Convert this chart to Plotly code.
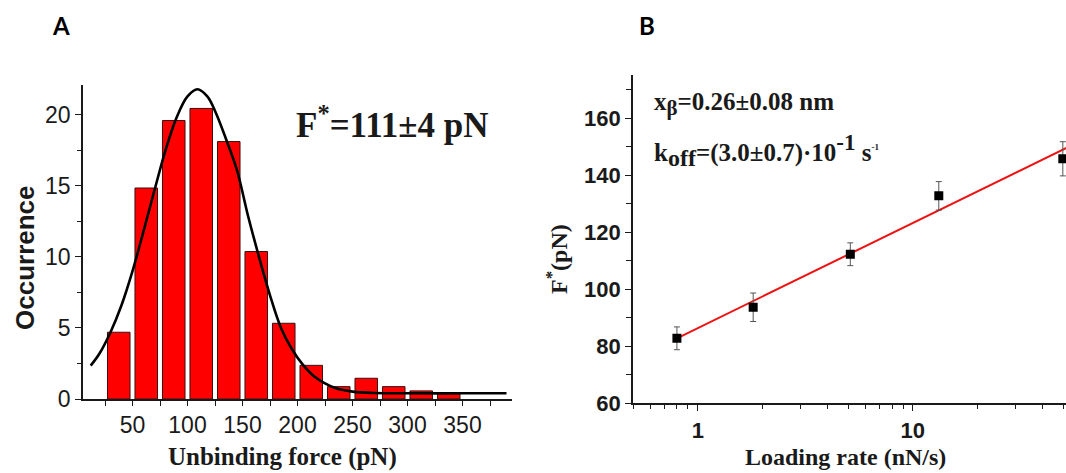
import plotly.graph_objects as go
import math

# ---- Panel A data: histogram of unbinding forces ----
bin_centers = [37.5, 62.5, 87.5, 112.5, 137.5, 162.5, 187.5, 212.5, 237.5, 262.5, 287.5, 312.5, 337.5]
occurrence = [4.7, 14.85, 19.6, 20.45, 18.12, 10.38, 5.33, 2.37, 0.87, 1.46, 0.87, 0.57, 0.36]

# fitted curve
curve_x = [12, 20, 30, 40, 50, 60, 70, 80, 90, 100, 109, 118, 126, 135, 145, 155, 165, 175,
           185, 195, 205, 215, 225, 235, 250, 270, 300, 350, 390]
curve_y = [2.35, 3.2, 4.7, 6.6, 9.0, 11.8, 14.7, 17.5, 19.8, 21.3, 21.8, 21.3, 20.1, 18.3,
           16.1, 12.9, 10.0, 7.3, 5.0, 3.5, 2.4, 1.6, 1.1, 0.75, 0.52, 0.42, 0.4, 0.4, 0.4]

# ---- Panel B data: most probable force vs loading rate ----
loading_rate = [0.80, 1.81, 5.12, 13.2, 49.8]
f_star = [82.8, 93.7, 112.3, 132.8, 145.8]
f_err = [4, 5, 4, 5, 6]
fit_x = [0.8, 55]
fit_y = [82.8, 150.6]

W, H = 1066, 473
def px(x):
    return x / W
def py(y):
    return 1 - y / H

SANS = "Liberation Sans"
SERIF = "Liberation Serif"
INK = "#1a1a1a"

fig = go.Figure()

fig.add_trace(go.Bar(
    x=bin_centers, y=occurrence, xaxis="x", yaxis="y",
    marker=dict(color="#ff0000", line=dict(color="#3a1010", width=1)),
    width=[20.5] * len(bin_centers),
))
fig.add_trace(go.Scatter(
    x=curve_x, y=curve_y, xaxis="x", yaxis="y", mode="lines",
    line=dict(color="#000000", width=2.6, shape="spline", smoothing=1.0),
))

fig.add_trace(go.Scatter(
    x=fit_x, y=fit_y, xaxis="x2", yaxis="y2", mode="lines",
    line=dict(color="#ee1111", width=2),
))
fig.add_trace(go.Scatter(
    x=loading_rate, y=f_star, xaxis="x2", yaxis="y2", mode="markers",
    marker=dict(symbol="square", size=9, color="#000000"),
    error_y=dict(type="data", array=f_err, color="#555555", thickness=1, width=3),
))

axis_common = dict(showgrid=False, zeroline=False, showline=True, linecolor=INK,
                   linewidth=1.6, ticks="outside", tickcolor=INK, tickwidth=1.4,
                   automargin=False)

fig.update_layout(
    width=W, height=H,
    margin=dict(l=0, r=0, t=0, b=0, autoexpand=False),
    paper_bgcolor="white", plot_bgcolor="white",
    showlegend=False,
    xaxis=dict(**axis_common, domain=[px(83), px(512)], range=[5, 395], anchor="y",
               tick0=0, dtick=50, ticklen=5,
               minor=dict(dtick=25, tick0=0, ticks="outside", ticklen=5, tickcolor=INK, tickwidth=1.2),
               tickfont=dict(family=SANS, size=23, color=INK)),
    yaxis=dict(**axis_common, domain=[py(399), py(85)], range=[0, 22.1], anchor="x",
               tick0=0, dtick=5, ticklen=6,
               minor=dict(dtick=2.5, tick0=0, ticks="outside", ticklen=4, tickcolor=INK, tickwidth=1.2),
               tickfont=dict(family=SANS, size=23, color=INK)),
    xaxis2=dict(**axis_common, type="log", domain=[px(633), 1.0],
                range=[math.log10(0.5), 1.712], anchor="y2",
                tick0=0, dtick=1, ticklen=6,
                minor=dict(dtick="D1", ticks="outside", ticklen=4, tickcolor=INK, tickwidth=1.2),
                tickfont=dict(family=SANS, size=22, color=INK, weight="bold")),
    yaxis2=dict(**axis_common, domain=[py(403.3), py(75)], range=[60, 175.2], anchor="x2",
                tick0=0, dtick=20, ticklen=6,
                minor=dict(dtick=10, tick0=0, ticks="outside", ticklen=5, tickcolor=INK, tickwidth=1.2),
                tickfont=dict(family=SANS, size=22, color=INK, weight="bold")),
)

ann = []
# axis titles
ann.append(dict(text="<b>Unbinding force (pN)</b>", x=px(282), y=py(457), xref="paper", yref="paper",
                showarrow=False, xanchor="center", yanchor="middle",
                font=dict(family=SERIF, size=25, color=INK)))
ann.append(dict(text="<b>Occurrence</b>", x=px(25), y=py(258), xref="paper", yref="paper",
                showarrow=False, xanchor="center", yanchor="middle", textangle=-90,
                font=dict(family=SANS, size=26, color=INK)))
ann.append(dict(text="<b>Loading rate (nN/s)</b>", x=px(845), y=py(457), xref="paper", yref="paper",
                showarrow=False, xanchor="center", yanchor="middle",
                font=dict(family=SERIF, size=24, color=INK)))
ann.append(dict(text="<b>F<sup>*</sup>(pN)</b>", x=px(557), y=py(259), xref="paper", yref="paper",
                showarrow=False, xanchor="center", yanchor="middle", textangle=-90,
                font=dict(family=SERIF, size=24, color=INK)))
# in-plot labels
ann.append(dict(text="<b>F<sup>*</sup>=111±4 pN</b>", x=px(294), y=py(122), xref="paper", yref="paper",
                showarrow=False, xanchor="left", yanchor="middle",
                font=dict(family=SERIF, size=35, color=INK)))
ann.append(dict(text="<b>x<sub><span style='font-size:21px'>β</span></sub>=0.26±0.08 nm</b>",
                x=px(652), y=py(104), xref="paper", yref="paper",
                showarrow=False, xanchor="left", yanchor="middle",
                font=dict(family=SERIF, size=25, color=INK)))
ann.append(dict(text="<b>k<sub><span style='font-size:24px'>off</span></sub>=(3.0±0.7)·10"
                     "<sup><span style='font-size:23px'>-1</span></sup> s"
                     "<sup><span style='font-size:9px'>-1</span></sup></b>",
                x=px(652), y=py(150), xref="paper", yref="paper",
                showarrow=False, xanchor="left", yanchor="middle",
                font=dict(family=SERIF, size=25, color=INK)))
# panel letters
ann.append(dict(text="<b>A</b>", x=px(61), y=py(25), xref="paper", yref="paper",
                showarrow=False, xanchor="center", yanchor="middle",
                font=dict(family="Lato", size=24, color="#000000")))
ann.append(dict(text="<b>B</b>", x=px(647), y=py(25), xref="paper", yref="paper",
                showarrow=False, xanchor="center", yanchor="middle",
                font=dict(family="Lato", size=24, color="#000000")))
fig.update_layout(annotations=ann)

fig.write_html("out.html")
